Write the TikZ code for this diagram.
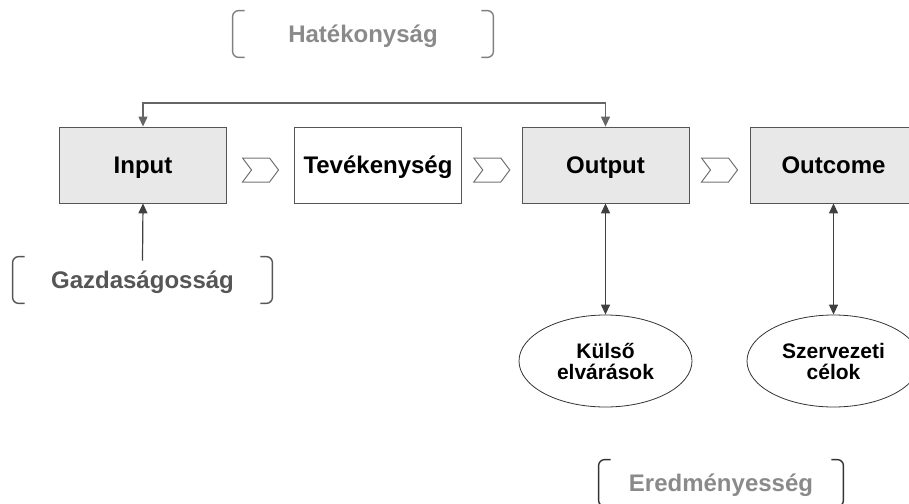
\documentclass[tikz,border=0pt]{standalone}
\usepackage{fontspec}
\setmainfont{Liberation Sans}
\usetikzlibrary{shapes.geometric, arrows.meta, calc}
\definecolor{boxfill}{HTML}{E8E8E8}
\definecolor{boxline}{HTML}{555555}
\definecolor{lightlabel}{HTML}{8A8A8A}
\definecolor{darklabel}{HTML}{555555}
\tikzset{
  stage/.style={draw=boxline, fill=boxfill, minimum width=83.5pt, minimum height=38pt,
    inner sep=0pt, text height=8.6pt, text depth=0pt, font=\fontsize{12}{14}\selectfont\bfseries},
  goal/.style={draw=black!80, ellipse, minimum width=86.5pt, minimum height=46pt,
    inner sep=0pt, align=center, font=\fontsize{10.5}{10.5}\selectfont\bfseries},
  measure/.style={minimum height=23pt, inner sep=0pt, text height=8.6pt, text depth=0pt,
    font=\fontsize{12}{14}\selectfont\bfseries},
  brace/.style={rounded corners=3pt, line width=0.7pt},
  link/.style={draw=black!75, line width=0.6pt, {Triangle[width=4.5pt,length=5pt]}-{Triangle[width=4.5pt,length=5pt]}},
  feed/.style={draw=black!75, line width=0.6pt, -{Triangle[width=4.5pt,length=5pt]}},
  chev/.style={draw=black!55, line width=0.5pt}
}

\begin{document}
\begin{tikzpicture}[x=0.5pt, y=-0.5pt]
\useasboundingbox (0,0) rectangle (909,503);

% stages
\node [stage] (input) at (143,165) {Input};
\node [stage, fill=white] (tev) at (378,165) {Tevékenység};
\node [stage] (output) at (605.5,165) {Output};
\node [stage] (outcome) at (833.5,165) {Outcome};

% chevrons between stages
\foreach \a/\b in {input/tev, tev/output, output/outcome}
  \draw [chev] ($($(\a.east)!0.5!(\b.west)$)+(0,5)$) ++(-18,-12) -- ++(27,0) -- ++(9,12)
    -- ++(-9,12) -- ++(-27,0) -- ++(9,-12) -- cycle;

% goals
\node [goal] (kulso) at (605.5,361) {Külső\\elvárások};
\node [goal] (celok) at (833.5,361) {Szervezeti\\célok};

% measures with brackets
\node [measure, minimum width=130pt, text=lightlabel] (hat) at (363,34) {Hatékonyság};
\node [measure, minimum width=129.5pt, text=darklabel] (gaz) at (142.5,280) {Gazdaságosság};
\node [measure, minimum width=122pt, text=lightlabel] (ered) at (721,483) {Eredményesség};

\draw [brace, draw=black!50] ([xshift=6]hat.north west) -- (hat.north west) -- (hat.south west) -- ([xshift=6]hat.south west);
\draw [brace, draw=black!50] ([xshift=-6]hat.north east) -- (hat.north east) -- (hat.south east) -- ([xshift=-6]hat.south east);
\draw [brace, draw=darklabel] ([xshift=6]gaz.north west) -- (gaz.north west) -- (gaz.south west) -- ([xshift=6]gaz.south west);
\draw [brace, draw=darklabel] ([xshift=-6]gaz.north east) -- (gaz.north east) -- (gaz.south east) -- ([xshift=-6]gaz.south east);
\draw [brace, draw=black!80] ([xshift=6]ered.north west) -- (ered.north west) -- (ered.south west) -- ([xshift=6]ered.south west);
\draw [brace, draw=black!80] ([xshift=-6]ered.north east) -- (ered.north east) -- (ered.south east) -- ([xshift=-6]ered.south east);

% connectors
\coordinate (top) at (374,103);
\draw [link, draw=black!60] (input.north) |- (top) -| (output.north);
\draw [feed] ([yshift=-2]gaz.north) -- (input.south);
\draw [link] (output.south) -- (kulso.north);
\draw [link] (outcome.south) -- (celok.north);
\end{tikzpicture}
\end{document}
